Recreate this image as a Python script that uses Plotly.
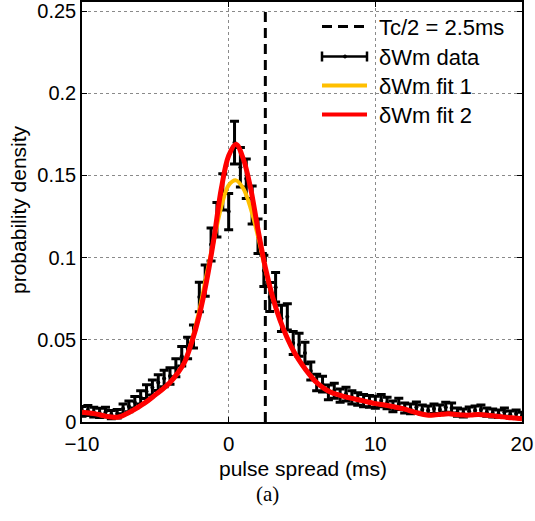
import numpy as np
import plotly.graph_objects as go

# ---- data ----
bin_step = 0.4
data_vals = [
    0.0065, 0.0070, 0.0060, 0.0055, 0.0060, 0.0045, 0.0050, 0.0080, 0.0095, 0.0120,
    0.0150, 0.0185, 0.0210, 0.0240, 0.0265, 0.0280, 0.0330, 0.0400, 0.0450, 0.0520,
    0.0760, 0.0860, 0.1080, 0.1230, 0.1400, 0.1280, 0.1700, 0.1550, 0.1480, 0.1320,
    0.1130, 0.0920, 0.0760, 0.0820, 0.0630, 0.0640, 0.0480, 0.0470, 0.0420, 0.0310,
    0.0240, 0.0230, 0.0180, 0.0190, 0.0160, 0.0170, 0.0150, 0.0140, 0.0130, 0.0125,
    0.0120, 0.0130, 0.0115, 0.0095, 0.0110, 0.0085, 0.0080, 0.0090, 0.0075, 0.0070,
    0.0080, 0.0075, 0.0090, 0.0085, 0.0060, 0.0055, 0.0065, 0.0070, 0.0075, 0.0060,
    0.0055, 0.0050, 0.0060, 0.0045, 0.0050, 0.0040,
]
data_err = [
    0.0030, 0.0030, 0.0030, 0.0028, 0.0030, 0.0025, 0.0026, 0.0030, 0.0032, 0.0035,
    0.0040, 0.0042, 0.0045, 0.0048, 0.0050, 0.0050, 0.0055, 0.0060, 0.0065, 0.0070,
    0.0090, 0.0095, 0.0100, 0.0105, 0.0110, 0.0110, 0.0130, 0.0120, 0.0120, 0.0115,
    0.0105, 0.0095, 0.0088, 0.0090, 0.0080, 0.0080, 0.0070, 0.0070, 0.0065, 0.0055,
    0.0050, 0.0048, 0.0045, 0.0045, 0.0040, 0.0042, 0.0040, 0.0038, 0.0037, 0.0036,
    0.0036, 0.0037, 0.0035, 0.0032, 0.0034, 0.0030, 0.0030, 0.0031, 0.0028, 0.0027,
    0.0029, 0.0028, 0.0030, 0.0030, 0.0025, 0.0024, 0.0026, 0.0027, 0.0028, 0.0025,
    0.0024, 0.0023, 0.0025, 0.0022, 0.0023, 0.0020,
]
data_x = np.round(-10 + bin_step * np.arange(len(data_vals)), 2)

fit_x = [-10, -9.5, -9, -8.5, -8, -7.5, -7, -6.5, -6, -5.5, -5, -4.5, -4, -3.5, -3,
         -2.5, -2, -1.5, -1, -0.5, 0, 0.5, 1, 1.5, 2, 2.5, 3, 3.5, 4, 4.5, 5, 5.5,
         6, 6.5, 7, 7.5, 8, 8.5, 9, 9.5, 10, 10.5, 11, 11.5, 12, 12.5, 13, 13.5, 14,
         14.5, 15, 15.5, 16, 16.5, 17, 17.5, 18, 18.5, 19, 19.5, 20]
fit2_vals = [0.0060, 0.0055, 0.0048, 0.0038, 0.0030, 0.0030, 0.0048, 0.0072, 0.0100,
             0.0130, 0.0165, 0.0200, 0.0240, 0.0295, 0.0365, 0.0490, 0.0650, 0.0860,
             0.1120, 0.1420, 0.1620, 0.1690, 0.1600, 0.1420, 0.1170, 0.0940, 0.0760,
             0.0620, 0.0510, 0.0420, 0.0350, 0.0290, 0.0240, 0.0205, 0.0180, 0.0165,
             0.0152, 0.0142, 0.0132, 0.0122, 0.0112, 0.0105, 0.0097, 0.0088, 0.0078,
             0.0065, 0.0052, 0.0043, 0.0042, 0.0047, 0.0050, 0.0046, 0.0042, 0.0042,
             0.0045, 0.0043, 0.0038, 0.0033, 0.0028, 0.0024, 0.0020]
fit1_vals = [0.0060, 0.0055, 0.0048, 0.0038, 0.0030, 0.0030, 0.0048, 0.0072, 0.0100,
             0.0130, 0.0165, 0.0200, 0.0240, 0.0295, 0.0365, 0.0500, 0.0680, 0.0900,
             0.1110, 0.1310, 0.1440, 0.1470, 0.1420, 0.1300, 0.1130, 0.0930, 0.0755,
             0.0620, 0.0510, 0.0420, 0.0350, 0.0290, 0.0240, 0.0205, 0.0180, 0.0165,
             0.0152, 0.0142, 0.0132, 0.0122, 0.0112, 0.0105, 0.0097, 0.0088, 0.0078,
             0.0065, 0.0052, 0.0043, 0.0042, 0.0047, 0.0050, 0.0046, 0.0042, 0.0042,
             0.0045, 0.0043, 0.0038, 0.0033, 0.0028, 0.0024, 0.0020]
tc_half = 2.5
x_ticks = [-10, 0, 10, 20]
y_ticks = [0, 0.05, 0.1, 0.15, 0.2, 0.25]
y_tick_text = ["0", "0.05", "0.1", "0.15", "0.2", "0.25"]

legend_labels = ["Tc/2 = 2.5ms", "\u03b4Wm data", "\u03b4Wm fit 1", "\u03b4Wm fit 2"]

ORANGE = "#FFBF00"
RED = "#FF0000"
FONT = "Liberation Sans"

fig = go.Figure()
fig.add_trace(go.Scatter(x=[tc_half, tc_half], y=[0, 0.25], mode="lines",
                         line=dict(color="black", width=3, dash="10px,6px"),
                         showlegend=False))
fig.add_trace(go.Scatter(x=data_x, y=data_vals, mode="markers",
                         marker=dict(color="black", size=4),
                         error_y=dict(type="data", array=data_err, color="black",
                                      thickness=3, width=4.5),
                         showlegend=False))
fig.add_trace(go.Scatter(x=fit_x, y=fit1_vals, mode="lines", line_shape="spline",
                         line=dict(color=ORANGE, width=4), showlegend=False))
fig.add_trace(go.Scatter(x=fit_x, y=fit2_vals, mode="lines", line_shape="spline",
                         line=dict(color=RED, width=5), showlegend=False))

# ---- manual legend (paper coordinates) ----
W, H = 535, 521
ml, mr, mt, mb = 82, 13, 2, 99
pw, ph = W - ml - mr, H - mt - mb


def px(xp):
    return (xp - ml) / pw


def py(yp):
    return 1 - (yp - mt) / ph


leg_y = [26.5, 56.5, 85.5, 114.5]
x0, x1 = 322, 367
shapes = []
shapes.append(dict(type="line", xref="paper", yref="paper", x0=px(x0), x1=px(x1),
                   y0=py(leg_y[0]), y1=py(leg_y[0]),
                   line=dict(color="black", width=3, dash="10px,6px")))
shapes.append(dict(type="line", xref="paper", yref="paper", x0=px(x0), x1=px(x1),
                   y0=py(leg_y[1]), y1=py(leg_y[1]), line=dict(color="black", width=2.5)))
for xc in (x0, x1):
    shapes.append(dict(type="line", xref="paper", yref="paper", x0=px(xc), x1=px(xc),
                       y0=py(leg_y[1] - 5), y1=py(leg_y[1] + 5),
                       line=dict(color="black", width=2.5)))
shapes.append(dict(type="circle", xref="paper", yref="paper",
                   x0=px(343.5), x1=px(346.5), y0=py(leg_y[1] - 1.5), y1=py(leg_y[1] + 1.5),
                   fillcolor="black", line=dict(color="black", width=1)))
shapes.append(dict(type="line", xref="paper", yref="paper", x0=px(x0), x1=px(x1),
                   y0=py(leg_y[2]), y1=py(leg_y[2]), line=dict(color=ORANGE, width=4)))
shapes.append(dict(type="line", xref="paper", yref="paper", x0=px(x0), x1=px(x1),
                   y0=py(leg_y[3]), y1=py(leg_y[3]), line=dict(color=RED, width=4)))

annotations = []
for lab, yy in zip(legend_labels, leg_y):
    annotations.append(dict(x=px(377), y=py(yy + 1), xref="paper", yref="paper", text=lab,
                            showarrow=False, xanchor="left", yanchor="middle",
                            font=dict(family=FONT, size=22, color="black")))
annotations.append(dict(x=px(303), y=py(468), xref="paper", yref="paper",
                        text="pulse spread (ms)", showarrow=False,
                        xanchor="center", yanchor="middle",
                        font=dict(family=FONT, size=21, color="black")))
annotations.append(dict(x=px(18), y=py(210), xref="paper", yref="paper",
                        text="probability density", showarrow=False, textangle=-90,
                        xanchor="center", yanchor="middle",
                        font=dict(family=FONT, size=21, color="black")))
annotations.append(dict(x=px(267), y=py(494), xref="paper", yref="paper",
                        text="(a)", showarrow=False, xanchor="center", yanchor="middle",
                        font=dict(family="Liberation Serif", size=21, color="black")))

axis_common = dict(showline=True, linecolor="black", linewidth=1.5, mirror="ticks",
                   ticks="inside", ticklen=5, tickcolor="black", tickwidth=1,
                   showgrid=True, gridcolor="#8a8a8a", griddash="dot", gridwidth=1,
                   zeroline=False, automargin=False, ticklabeloverflow="allow")

fig.update_layout(
    width=W, height=H,
    margin=dict(l=ml, r=mr, t=mt, b=mb, autoexpand=False),
    paper_bgcolor="white", plot_bgcolor="white",
    xaxis=dict(range=[-10, 20], tickvals=x_ticks, ticklabelstandoff=3,
               tickfont=dict(family=FONT, size=20.5, color="black"), **axis_common),
    yaxis=dict(range=[0, 0.2555], tickvals=y_ticks, ticktext=y_tick_text,
               tickfont=dict(family=FONT, size=20, color="black"), **axis_common),
    shapes=shapes, annotations=annotations, showlegend=False,
)

fig.write_html("out.html", config={"displayModeBar": False},
               post_script="document.body.style.margin='0';document.body.style.padding='0';")
